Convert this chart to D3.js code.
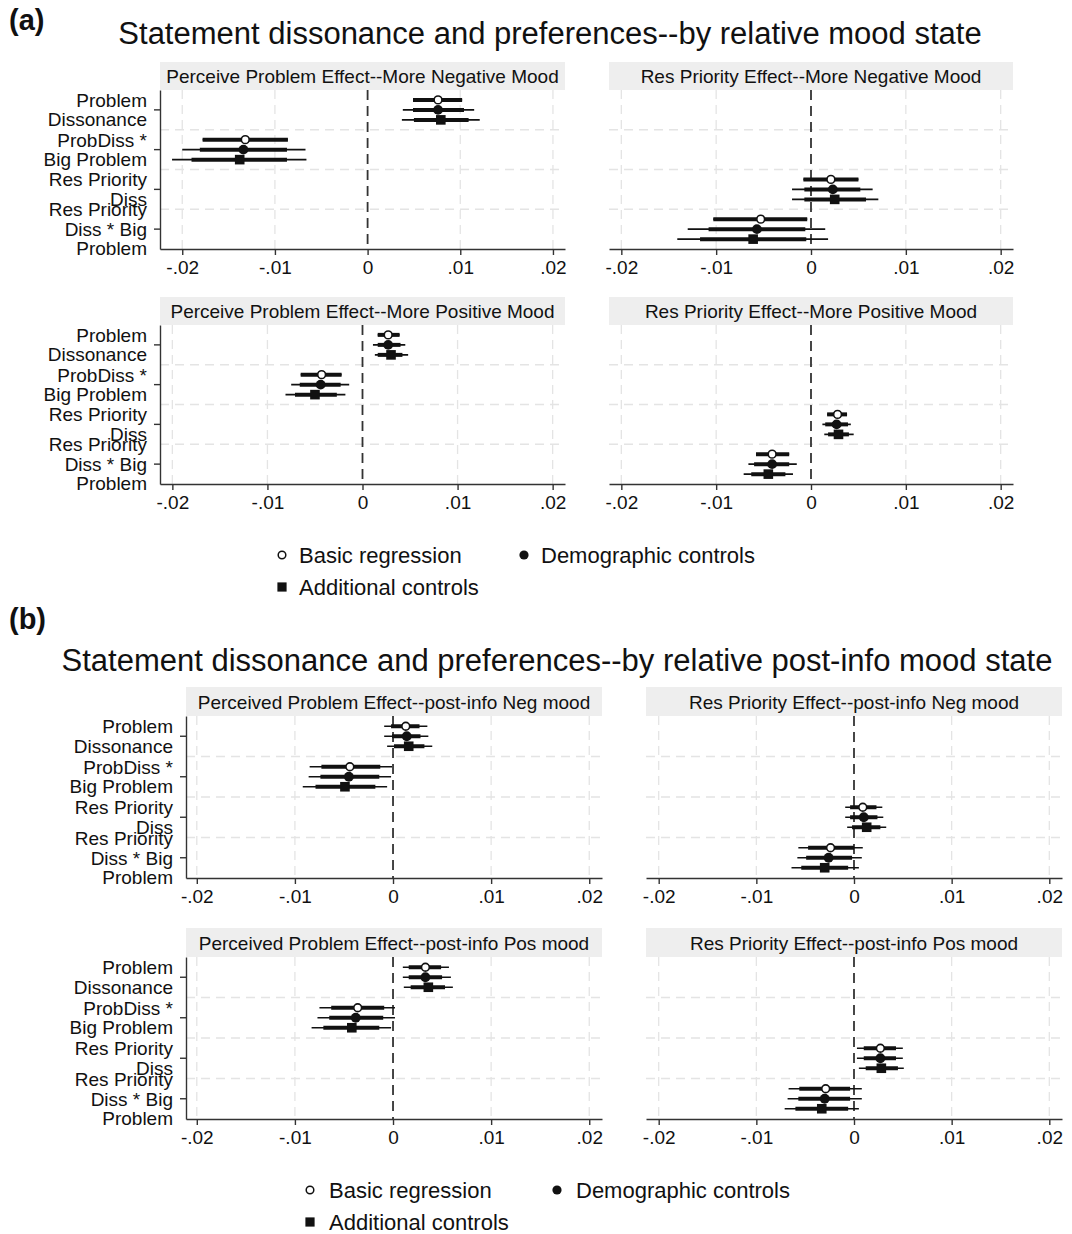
<!DOCTYPE html>
<html>
<head>
<meta charset="utf-8">
<script src="https://cdn.jsdelivr.net/npm/d3@7"></script>
<style>
	body { margin: 0; background: #fff; }
	svg { display: block; font-family: 'Liberation Sans', Arial, sans-serif; }
</style>
</head>
<body>
<div id="chart"></div>
<script>
// categories on the y axis (multi-line labels as in the figure)
const categoryLines = [
	['Problem', 'Dissonance'],
	['ProbDiss *', 'Big Problem'],
	['Res Priority', 'Diss'],
	['Res Priority', 'Diss * Big', 'Problem'],
]
const seriesNames = ['Basic regression', 'Demographic controls', 'Additional controls']
const xTicks = [-0.02, -0.01, 0, 0.01, 0.02]
const xTickLabels = ['-.02', '-.01', '0', '.01', '.02']

const mainTitleA = 'Statement dissonance and preferences--by relative mood state'
const mainTitleB = 'Statement dissonance and preferences--by relative post-info mood state'
const panelTitlesA = [
	'Perceive Problem Effect--More Negative Mood',
	'Res Priority Effect--More Negative Mood',
	'Perceive Problem Effect--More Positive Mood',
	'Res Priority Effect--More Positive Mood',
]
const panelTitlesB = [
	'Perceived Problem Effect--post-info Neg mood',
	'Res Priority Effect--post-info Neg mood',
	'Perceived Problem Effect--post-info Pos mood',
	'Res Priority Effect--post-info Pos mood',
]

// rows: category, series, estimate, thick lo, thick hi, thin lo, thin hi
const aNegProblem = [
	[0, 0, 0.0076, 0.0049, 0.0102, 0.0049, 0.0102],
	[0, 1, 0.0076, 0.0049, 0.0104, 0.0038, 0.0115],
	[0, 2, 0.0079, 0.005, 0.0109, 0.0037, 0.0121],
	[1, 0, -0.0132, -0.0178, -0.0086, -0.0178, -0.0086],
	[1, 1, -0.0134, -0.0181, -0.0087, -0.02, -0.0067],
	[1, 2, -0.0138, -0.019, -0.0087, -0.0211, -0.0066],
]
const aNegPriority = [
	[2, 0, 0.0021, -0.0008, 0.005, -0.0008, 0.005],
	[2, 1, 0.0023, -0.0007, 0.0052, -0.002, 0.0065],
	[2, 2, 0.0025, -0.0007, 0.0058, -0.002, 0.0071],
	[3, 0, -0.0053, -0.0103, -0.0004, -0.0103, -0.0004],
	[3, 1, -0.0057, -0.0108, -0.0006, -0.013, 0.0015],
	[3, 2, -0.0061, -0.0117, -0.0005, -0.0141, 0.0018],
]
const aPosProblem = [
	[0, 0, 0.0027, 0.0016, 0.0039, 0.0016, 0.0039],
	[0, 1, 0.0027, 0.0016, 0.004, 0.0011, 0.0045],
	[0, 2, 0.003, 0.0016, 0.0042, 0.0013, 0.0048],
	[1, 0, -0.0043, -0.0065, -0.0022, -0.0065, -0.0022],
	[1, 1, -0.0044, -0.0066, -0.0023, -0.0075, -0.0014],
	[1, 2, -0.005, -0.0071, -0.0027, -0.0081, -0.0018],
]
const aPosPriority = [
	[2, 0, 0.0028, 0.0017, 0.0038, 0.0017, 0.0038],
	[2, 1, 0.0027, 0.0015, 0.0039, 0.0012, 0.0042],
	[2, 2, 0.0029, 0.0018, 0.004, 0.0014, 0.0045],
	[3, 0, -0.0041, -0.0058, -0.0023, -0.0058, -0.0023],
	[3, 1, -0.0041, -0.006, -0.0023, -0.0066, -0.0015],
	[3, 2, -0.0045, -0.0063, -0.0027, -0.0071, -0.0019],
]
const bNegProblem = [
	[0, 0, 0.0013, -0.0002, 0.0027, -0.0009, 0.0035],
	[0, 1, 0.0014, -0.0001, 0.0028, -0.0009, 0.0036],
	[0, 2, 0.0016, 0.0001, 0.0032, -0.0006, 0.004],
	[1, 0, -0.0044, -0.0073, -0.0013, -0.0085, -0.0001],
	[1, 1, -0.0045, -0.0074, -0.0014, -0.0086, -0.0002],
	[1, 2, -0.0049, -0.0079, -0.0018, -0.0092, -0.0006],
]
const bNegPriority = [
	[2, 0, 0.0009, -0.0004, 0.0023, -0.0009, 0.0029],
	[2, 1, 0.001, -0.0004, 0.0024, -0.0009, 0.003],
	[2, 2, 0.0013, -0.0002, 0.0027, -0.0007, 0.0033],
	[3, 0, -0.0024, -0.0047, 0.0, -0.0057, 0.0009],
	[3, 1, -0.0026, -0.0049, -0.0002, -0.0058, 0.0008],
	[3, 2, -0.003, -0.0054, -0.0006, -0.0064, 0.0005],
]
const bPosProblem = [
	[0, 0, 0.0033, 0.0016, 0.0049, 0.001, 0.0057],
	[0, 1, 0.0033, 0.0016, 0.005, 0.001, 0.0059],
	[0, 2, 0.0036, 0.0018, 0.0053, 0.0011, 0.0061],
	[1, 0, -0.0036, -0.0063, -0.0009, -0.0075, 0.0002],
	[1, 1, -0.0038, -0.0065, -0.001, -0.0077, 0.0002],
	[1, 2, -0.0042, -0.0071, -0.0014, -0.0083, -0.0002],
]
const bPosPriority = [
	[2, 0, 0.0027, 0.001, 0.0043, 0.0003, 0.005],
	[2, 1, 0.0027, 0.001, 0.0043, 0.0003, 0.005],
	[2, 2, 0.0028, 0.0012, 0.0045, 0.0005, 0.0051],
	[3, 0, -0.0029, -0.0056, -0.0004, -0.0067, 0.0008],
	[3, 1, -0.003, -0.0057, -0.0004, -0.0068, 0.0008],
	[3, 2, -0.0033, -0.006, -0.0006, -0.0071, 0.0005],
]

const width = 1072
const height = 1234
const ink = '#111'

const svg = d3
	.create('svg')
	.attr('width', width)
	.attr('height', height)
	.attr('viewBox', [0, 0, width, height])

svg.append('rect').attr('width', width).attr('height', height).attr('fill', '#fff')

// ? panel frames (positions only, data comes from the arrays above)
const panels = [
	{ title: panelTitlesA[0], data: aNegProblem, x0: 160, x1: 565, stripTop: 62, top: 90, bottom: 249, domain: [-0.0224, 0.0213], labels: true },
	{ title: panelTitlesA[1], data: aNegPriority, x0: 609, x1: 1013, stripTop: 62, top: 90, bottom: 249, domain: [-0.0213, 0.0213], labels: false },
	{ title: panelTitlesA[2], data: aPosProblem, x0: 160, x1: 565, stripTop: 297, top: 325, bottom: 484, domain: [-0.0213, 0.0213], labels: true },
	{ title: panelTitlesA[3], data: aPosPriority, x0: 609, x1: 1013, stripTop: 297, top: 325, bottom: 484, domain: [-0.0213, 0.0213], labels: false },
	{ title: panelTitlesB[0], data: bNegProblem, x0: 186, x1: 602, stripTop: 687, top: 716, bottom: 878, domain: [-0.0211, 0.0213], labels: true },
	{ title: panelTitlesB[1], data: bNegPriority, x0: 646, x1: 1062, stripTop: 687, top: 716, bottom: 878, domain: [-0.0213, 0.0213], labels: false },
	{ title: panelTitlesB[2], data: bPosProblem, x0: 186, x1: 602, stripTop: 928, top: 957, bottom: 1119, domain: [-0.0211, 0.0213], labels: true },
	{ title: panelTitlesB[3], data: bPosPriority, x0: 646, x1: 1062, stripTop: 928, top: 957, bottom: 1119, domain: [-0.0213, 0.0213], labels: false },
]

function drawMarker(sel, s, cx, cy) {
	if (s === 0) {
		sel.append('circle').attr('cx', cx).attr('cy', cy).attr('r', 3.9)
			.attr('fill', '#fff').attr('stroke', ink).attr('stroke-width', 1.6)
	} else if (s === 1) {
		sel.append('circle').attr('cx', cx).attr('cy', cy).attr('r', 4.9).attr('fill', ink)
	} else {
		sel.append('rect').attr('x', cx - 4.8).attr('y', cy - 4.8)
			.attr('width', 9.6).attr('height', 9.6).attr('fill', ink)
	}
}

panels.forEach((p) => {
	const g = svg.append('g')
	const x = d3.scaleLinear().domain(p.domain).range([p.x0, p.x1])
	const y = d3.scaleBand().domain(d3.range(categoryLines.length)).range([p.top, p.bottom])
	const off = d3.scalePoint().domain(d3.range(seriesNames.length)).range([-10, 10])
	const yc = (c) => y(c) + y.bandwidth() / 2

	// strip header
	g.append('rect')
		.attr('x', p.x0).attr('y', p.stripTop)
		.attr('width', p.x1 - p.x0).attr('height', p.top - p.stripTop)
		.attr('fill', '#eeeeee')
	g.append('text')
		.attr('x', (p.x0 + p.x1) / 2).attr('y', p.top - 7)
		.attr('text-anchor', 'middle').attr('font-size', 19).attr('fill', ink)
		.text(p.title)

	// grid
	g.append('g').selectAll('line')
		.data(xTicks.filter((d) => d !== 0))
		.join('line')
		.attr('x1', (d) => x(d)).attr('x2', (d) => x(d))
		.attr('y1', p.top).attr('y2', p.bottom)
		.attr('stroke', '#e4e4e4').attr('stroke-width', 1.3).attr('stroke-dasharray', '9,6')
	g.append('g').selectAll('line')
		.data(d3.range(1, categoryLines.length))
		.join('line')
		.attr('x1', p.x0).attr('x2', p.x1)
		.attr('y1', (d) => y(d)).attr('y2', (d) => y(d))
		.attr('stroke', '#e4e4e4').attr('stroke-width', 1.3).attr('stroke-dasharray', '9,6')

	// zero reference line
	g.append('line')
		.attr('x1', x(0)).attr('x2', x(0))
		.attr('y1', p.top).attr('y2', p.bottom)
		.attr('stroke', '#333').attr('stroke-width', 1.8).attr('stroke-dasharray', '10,6')

	// x axis
	const xAxis = g.append('g')
		.attr('transform', `translate(0,${p.bottom})`)
		.call(d3.axisBottom(x).tickValues(xTicks).tickFormat((d, i) => xTickLabels[i])
			.tickSize(6).tickSizeOuter(0).tickPadding(6))
	xAxis.select('.domain').attr('stroke', '#333').attr('stroke-width', 1.4)
	xAxis.selectAll('.tick line').attr('stroke', '#333').attr('stroke-width', 1.4)
	xAxis.selectAll('.tick text')
		.attr('font-size', 19).attr('fill', ink).attr('font-family', null)

	// y axis (left panels only)
	if (p.labels) {
		const yAxis = g.append('g')
			.attr('transform', `translate(${p.x0},0)`)
			.call(d3.axisLeft(y).tickSize(6).tickSizeOuter(0).tickPadding(7).tickFormat(() => ''))
		yAxis.select('.domain').attr('stroke', '#333').attr('stroke-width', 1.4)
		yAxis.selectAll('.tick line').attr('stroke', '#333').attr('stroke-width', 1.4)
		yAxis.selectAll('.tick text')
			.attr('font-size', 19).attr('fill', ink).attr('font-family', null)
			.each(function (c) {
				const lines = categoryLines[c]
				const t = d3.select(this).attr('dy', null).attr('y', 0)
				lines.forEach((ln, i) => {
					t.append('tspan')
						.attr('x', -13)
						.attr('y', (i - (lines.length - 1) / 2) * 19.5 + 6.8)
						.text(ln)
				})
			})
	}

	// confidence intervals and estimates
	const marks = g.append('g')
	p.data.forEach(([c, s, est, tLo, tHi, nLo, nHi]) => {
		const cy = yc(c) + off(s)
		marks.append('line')
			.attr('x1', x(nLo)).attr('x2', x(nHi)).attr('y1', cy).attr('y2', cy)
			.attr('stroke', ink).attr('stroke-width', 1.7)
		marks.append('line')
			.attr('x1', x(tLo)).attr('x2', x(tHi)).attr('y1', cy).attr('y2', cy)
			.attr('stroke', ink).attr('stroke-width', 4)
		drawMarker(marks, s, x(est), cy)
	})
})

// ? figure titles
function heading(label, lx, ly, title, tx, ty) {
	svg.append('text').attr('x', lx).attr('y', ly)
		.attr('font-size', 29).attr('font-weight', 'bold').attr('fill', ink).text(label)
	svg.append('text').attr('x', tx).attr('y', ty).attr('text-anchor', 'middle')
		.attr('font-size', 31).attr('fill', ink).text(title)
}
heading('(a)', 9, 30, mainTitleA, 550, 44)
heading('(b)', 9, 629, mainTitleB, 557, 671)

// ? legends
function legend(x0, x1, y0, gap, rowGap) {
	const pos = [
		[x0, y0],
		[x1, y0],
		[x0, y0 + rowGap],
	]
	seriesNames.forEach((name, s) => {
		const [lx, ly] = pos[s]
		if (s === 0) {
			svg.append('circle').attr('cx', lx).attr('cy', ly).attr('r', 3.8)
				.attr('fill', '#fff').attr('stroke', ink).attr('stroke-width', 1.5)
		} else if (s === 1) {
			svg.append('circle').attr('cx', lx).attr('cy', ly).attr('r', 4.6).attr('fill', ink)
		} else {
			svg.append('rect').attr('x', lx - 4.6).attr('y', ly - 4.6)
				.attr('width', 9.2).attr('height', 9.2).attr('fill', ink)
		}
		svg.append('text').attr('x', lx + gap).attr('y', ly + 7.8)
			.attr('font-size', 22).attr('fill', ink).text(name)
	})
}
legend(282, 524, 555, 17, 32)
legend(310, 557, 1190, 19, 32)

document.getElementById('chart').appendChild(svg.node())
</script>
</body>
</html>
